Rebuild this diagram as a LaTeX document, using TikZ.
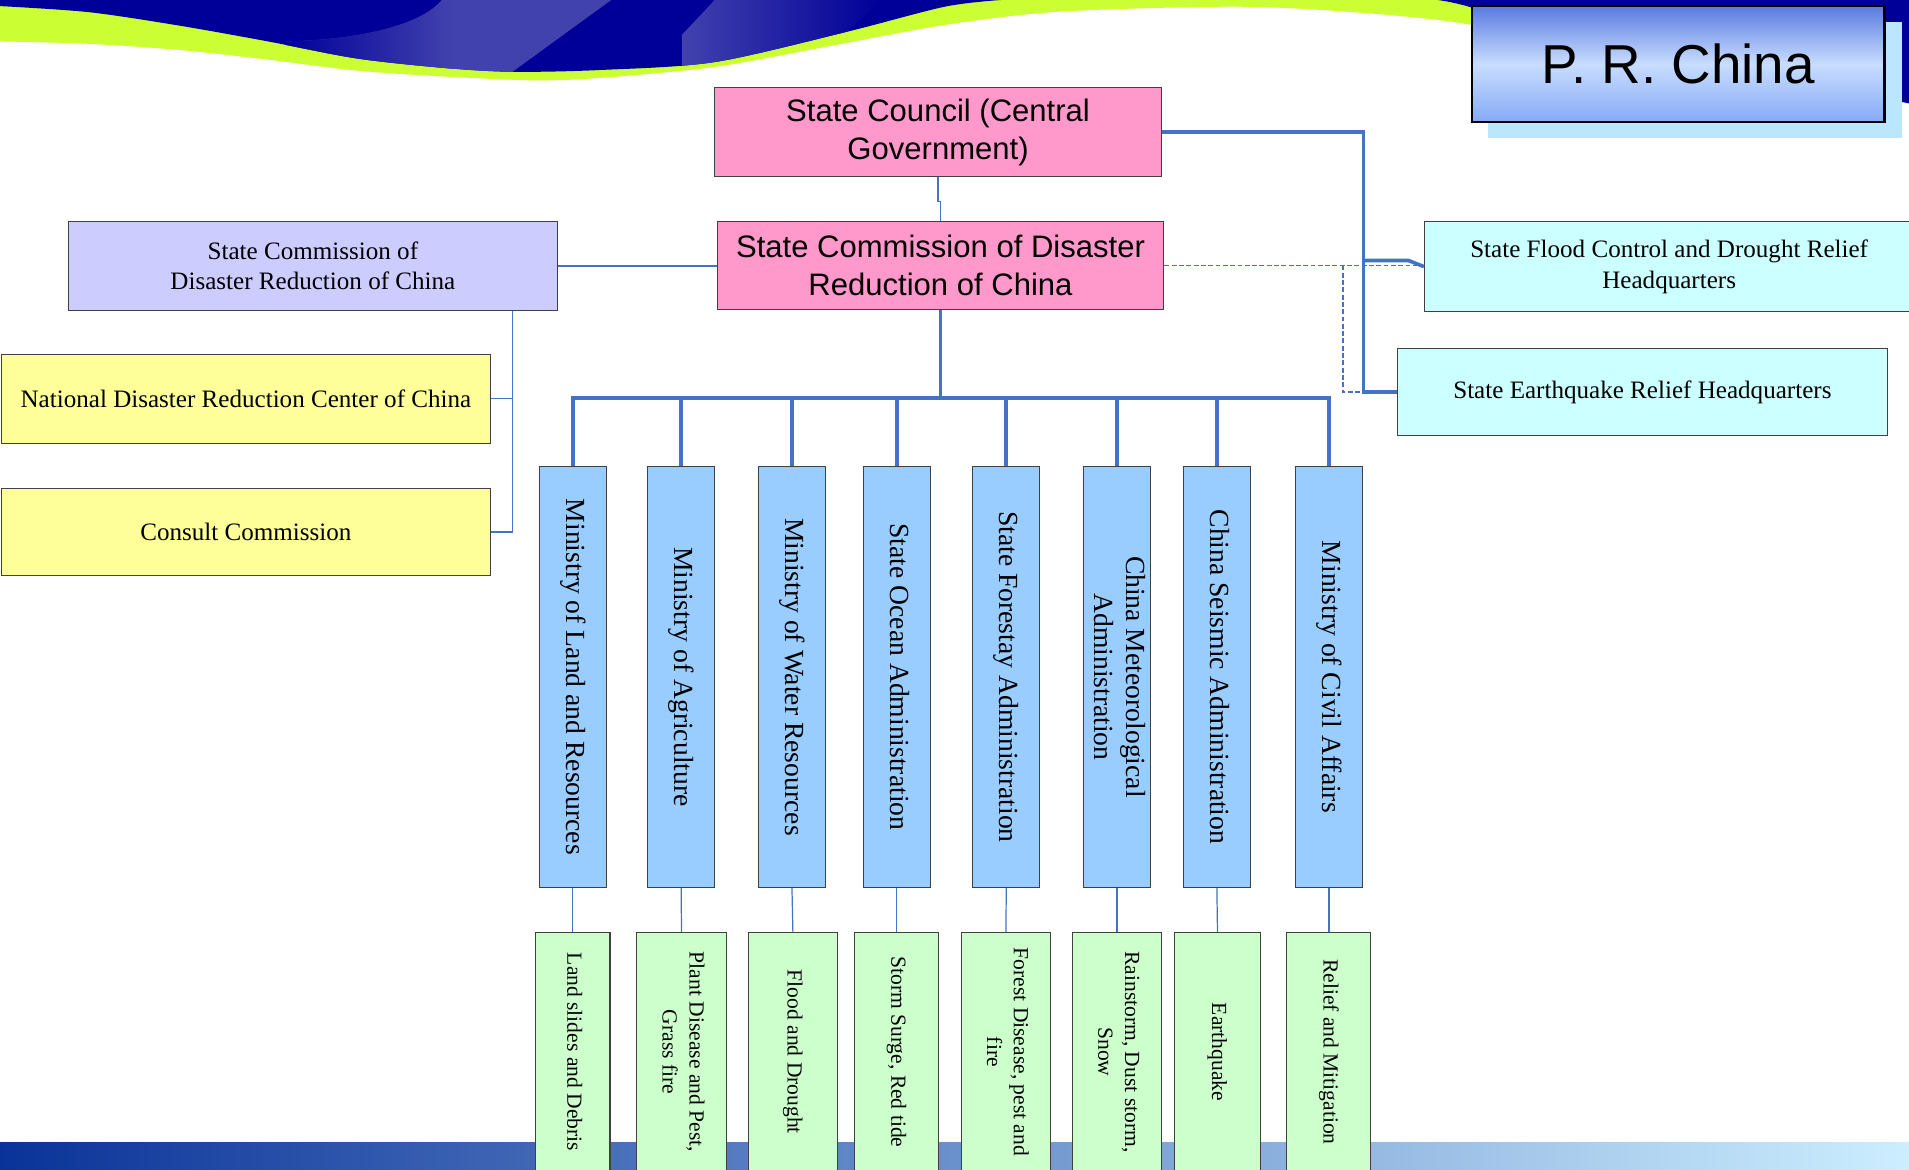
\documentclass[tikz,border=0pt]{standalone}
\usepackage{fontspec}
\setmainfont{Liberation Serif}
\newfontfamily\arialf{Liberation Sans}
\usetikzlibrary{calc}
\definecolor{dblue}{HTML}{000099}
\definecolor{limeg}{HTML}{CCFF33}
\definecolor{stripec}{HTML}{4242AE}
\definecolor{pinkf}{HTML}{FF99CC}
\definecolor{lavf}{HTML}{CCCCFF}
\definecolor{yelf}{HTML}{FFFF99}
\definecolor{cyanf}{HTML}{CCFFFF}
\definecolor{minf}{HTML}{99CCFF}
\definecolor{grnf}{HTML}{CCFFCC}
\definecolor{linec}{HTML}{4472C4}
\definecolor{boxline}{HTML}{404040}
\definecolor{shadowc}{HTML}{BBE6FF}
\definecolor{bandl}{HTML}{0A3399}
\definecolor{bandr}{HTML}{CCEEFF}
\definecolor{titletop}{HTML}{5A7BE0}
\definecolor{titlemid}{HTML}{C8DDFF}
\definecolor{titlebot}{HTML}{86AAF6}
\newcommand\myvtext[1]{\rotatebox{-90}{\begin{tabular}{@{}c@{}}#1\end{tabular}}}
\begin{document}
\begin{tikzpicture}[x=1pt,y=-1pt,
  orgbox/.style={draw=boxline, line width=0.9pt, inner sep=0pt, align=center},
  pinkbox/.style={orgbox, fill=pinkf, minimum width=367pt, font=\arialf\fontsize{25.5}{31}\selectfont},
  lbox/.style={orgbox, minimum width=402pt, minimum height=73pt, font=\fontsize{20.6}{25}\selectfont},
  minbox/.style={orgbox, fill=minf, minimum width=55pt, minimum height=346pt, font=\fontsize{22.7}{27}\selectfont},
  grnbox/.style={orgbox, fill=grnf, minimum height=196pt, font=\fontsize{17.7}{22}\selectfont},
  thickl/.style={draw=linec, line width=3pt},
  thinl/.style={draw=linec, line width=1pt},
  dashl/.style={draw=linec, line width=1pt, dash pattern=on 4pt off 2pt}
]
\useasboundingbox (0,0) rectangle (1568,961);
% background wave: lime band
\fill[limeg] (0,0) -- plot[smooth] coordinates {(0,34) (73,36) (147,41) (220,49) (293,58) (367,63) (440,66) (493,64) (587,55) (681,38) (776,20.5) (870,9.6) (1012,5.5) (1106,9.6) (1200,19) (1300,40)} -- (1568,60) -- (1568,0) -- cycle;
% dark blue, left part
\begin{scope}
\clip (0,0) -- plot[smooth] coordinates {(0,5) (73,10) (147,21) (220,34) (293,48) (367,56) (422,59) (493,57.5) (587,51) (696,26) (776,5.5) (822,0)} -- cycle;
\fill[dblue] (0,0) rectangle (900,80);
\begin{scope}
\clip (363,0) .. controls (345,22) and (290,33) .. (235,34) -- (235,80) -- (392,80) -- (502,0) -- cycle;
\fill[stripec] (200,0) rectangle (520,80);
\shade[left color=dblue, right color=stripec] (232,0) rectangle (372,80);
\end{scope}
\begin{scope}
\clip (587,0) -- (512,80) -- (638,80) -- (724,0) -- cycle;
\shade[left color=stripec, right color=dblue] (560,0) rectangle (724,80);
\end{scope}
\end{scope}
% dark blue, right part
\fill[dblue] (1181,0) .. controls (1195,2) and (1205,5) .. (1215,8) -- (1568,85) -- (1568,0) -- cycle;
% bottom band
\shade[left color=bandl, right color=bandr] (0,938) rectangle (1568,962);
% title
\fill[shadowc] (1222,18) rectangle (1562,113);
\node[draw=black, line width=2pt, top color=titletop, bottom color=titlebot, middle color=titlemid, minimum width=339pt, minimum height=95pt, inner sep=0pt, font=\arialf\fontsize{45}{50}\selectfont] (title) at (1378.5,52.5) {P. R. China};
% main boxes
\node[pinkbox, minimum height=73pt] (sc) at (770.5,108.5) {State Council (Central\\Government)};
\node[pinkbox, minimum height=72pt] (scdr) at (772.5,218) {State Commission of Disaster\\Reduction of China};
\node[lbox, fill=lavf] (purp) at (257,218.5) {State Commission of\\Disaster Reduction of China};
\node[lbox, fill=yelf] (ndrc) at (202,327.5) {National Disaster Reduction Center of China};
\node[lbox, fill=yelf, minimum height=72pt] (cons) at (202,437) {Consult Commission};
\node[lbox, fill=cyanf, minimum height=74pt] (flood) at (1371,219) {State Flood Control and Drought Relief\\Headquarters};
\node[lbox, fill=cyanf, minimum height=72pt] (eq) at (1349,322) {State Earthquake Relief Headquarters};
% ministries
\node[minbox] (m1) at (470.5,556) {\myvtext{Ministry of Land and Resources}};
\node[minbox] (m2) at (559.5,556) {\myvtext{Ministry of Agriculture}};
\node[minbox] (m3) at (650.5,556) {\myvtext{Ministry of Water Resources}};
\node[minbox] (m4) at (736.5,556) {\myvtext{State Ocean Administration}};
\node[minbox] (m5) at (826.5,556) {\myvtext{State Forestay Administration}};
\node[minbox] (m6) at (917.5,556) {\myvtext{China Meteorological\\Administration}};
\node[minbox] (m7) at (999.5,556) {\myvtext{China Seismic Administration}};
\node[minbox] (m8) at (1091.5,556) {\myvtext{Ministry of Civil Affairs}};
% hazards
\node[grnbox, minimum width=61pt] (g1) at (470.5,864) {\myvtext{Land slides and Debris}};
\node[grnbox, minimum width=73.5pt] (g2) at (559.75,864) {\myvtext{Plant Disease and Pest,\\Grass fire}};
\node[grnbox, minimum width=73.5pt] (g3) at (651.25,864) {\myvtext{Flood and Drought}};
\node[grnbox, minimum width=69pt] (g4) at (736.5,864) {\myvtext{Storm Surge, Red tide}};
\node[grnbox, minimum width=72.5pt] (g5) at (826.25,864) {\myvtext{Forest Disease, pest and\\fire}};
\node[grnbox, minimum width=73pt] (g6) at (917.5,864) {\myvtext{Rainstorm, Dust storm,\\Snow}};
\node[grnbox, minimum width=70pt] (g7) at (1000,864) {\myvtext{Earthquake}};
\node[grnbox, minimum width=69pt] (g8) at (1091.5,864) {\myvtext{Relief and Mitigation}};
% connectors
\coordinate (busy) at (0,327);
\coordinate (vx) at (421,0);
\coordinate (rx) at (1120,0);
\coordinate (dx) at (1103,0);
\coordinate (fj) at (1120,214);
\coordinate (fk) at (1157,214);
\draw[thinl] (sc.south) -- ++(0,20) -| (scdr.north);
\draw[thinl] (purp.east) -- (purp.east -| scdr.west);
\draw[thinl] (purp.south -| vx) |- (cons.east);
\draw[thinl] (ndrc.east) -- (ndrc.east -| vx);
\draw[thickl] (scdr.south) -- (scdr.south |- busy);
\draw[thickl, line cap=rect] (m1.north |- busy) -- (m8.north |- busy);
\foreach \i in {1,...,8} {
  \draw[thickl] (m\i.north |- busy) -- (m\i.north);
  \draw[thinl] (m\i.south) -- (g\i.north);
}
\draw[dashl] (scdr.east) -- (scdr.east -| flood.west);
\draw[dashl] (scdr.east -| dx) |- (eq.west);
\draw[thickl] (sc.east) -| (rx |- eq.west) -- (eq.west);
\draw[thickl] (fj) -- (fk) -- (flood.west);
\end{tikzpicture}
\end{document}
